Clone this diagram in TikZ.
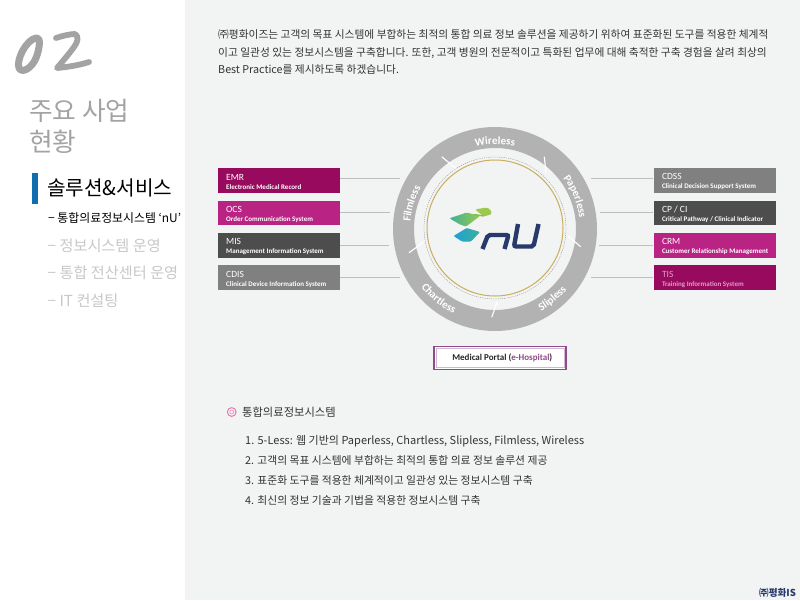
\documentclass[tikz,border=0pt]{standalone}
\usepackage{fontspec}
\usetikzlibrary{decorations.text}
\setmainfont{Noto Sans CJK KR}
\newfontfamily\latinf{Carlito}
\definecolor{panelbg}{HTML}{F2F3F3}
\definecolor{ringgrey}{HTML}{B2B2B2}
\definecolor{emrc}{HTML}{980A5E}
\definecolor{ocsc}{HTML}{B82384}
\definecolor{misc}{HTML}{4D4D4D}
\definecolor{cdisc}{HTML}{808080}
\definecolor{linec}{HTML}{BDBDBD}
\definecolor{goldc}{HTML}{C9AE5E}
\definecolor{portalc}{HTML}{8F4A8C}
\definecolor{barc}{HTML}{0F6DB0}
\definecolor{navyc}{HTML}{263A6B}
\definecolor{numc}{HTML}{A3A3A3}
\definecolor{menuc}{HTML}{C8C8C8}
\definecolor{limec}{HTML}{9CC94A}
\definecolor{greenc}{HTML}{7CC05A}
\definecolor{tealc}{HTML}{3DB09A}
\definecolor{bluec}{HTML}{1FA0D8}
\definecolor{pinkc}{HTML}{E87AB0}
\tikzset{
  sysbox/.style={minimum width=122pt,minimum height=24.6pt,inner xsep=8.5pt,inner ysep=0pt,text width=105pt,text=white,align=flush left,anchor=north west},
  link/.style={draw=linec,line width=0.7pt},
  divider/.style={draw=white,line width=1.1pt},
  bodytxt/.style={anchor=base west,inner sep=0pt,text=black!80,font=\fontsize{10.73}{11}\selectfont},
  menutxt/.style={anchor=base west,inner sep=0pt,text=menuc,font=\fontsize{15.2}{15}\selectfont},
  listtxt/.style={anchor=base west,inner sep=0pt,text=black!80,font=\fontsize{10.8}{11}\selectfont},
  headtxt/.style={anchor=base west,inner sep=0pt,text=numc,font=\fontsize{25.7}{26}\selectfont},
  ringpath/.style={decorate,decoration={text along path,text={|\ringfont|#1},text align=center}}
}
\newcommand{\ringfont}{\color{white}\latinf\bfseries\fontsize{11}{11}\selectfont}
\newcommand{\boxtxt}[2]{\rule{0pt}{9pt}{\latinf\fontsize{9.5}{8}\selectfont #1}\\[-3pt]\mbox{\latinf\bfseries\fontsize{7}{8}\selectfont #2}}
\begin{document}
\begin{tikzpicture}[x=1pt,y=-1pt]
\useasboundingbox (0,0) rectangle (800,600);
\fill[white] (0,0) rectangle (800,600);
\fill[panelbg] (185,0) rectangle (800,600);
% heading numerals
\draw[numc,line width=7pt,line cap=round,line join=round] (36,38) .. controls (26,40) and (16,60) .. (19,68) .. controls (22,74) and (32,68) .. (36,58) .. controls (40,48) and (41,36) .. (36,38) -- cycle;
\draw[numc,line width=5.8pt,line cap=round,line join=round] (56,38) .. controls (62,36) and (70,34) .. (75,34) .. controls (79,36) and (78,42) .. (74,47) .. controls (69,54) and (62,62) .. (57,68) .. controls (68,67) and (80,65) .. (89,62);
\node[headtxt] (t1) at (29,120) {주요 사업};
\node[headtxt] (t2) at (29,151) {현황};
\fill[barc] (31.5,173) rectangle (37.7,204);
\node[anchor=base west,inner sep=0pt,text=black,font=\fontsize{20.2}{20}\selectfont] (m0) at (47,195) {솔루션\&서비스};
\node[anchor=base west,inner sep=0pt,text=black,font=\fontsize{11.9}{12}\selectfont] (m1) at (48,222) {− 통합의료정보시스템 ‘nU’};
\node[menutxt] (m2) at (47.5,251) {− 정보시스템 운영};
\node[menutxt] (m3) at (47.5,278) {− 통합 전산센터 운영};
\node[menutxt] (m4) at (47.5,306) {− IT 컨설팅};
% intro
\node[bodytxt] (p1) at (218,38) {㈜평화이즈는 고객의 목표 시스템에 부합하는 최적의 통합 의료 정보 솔루션을 제공하기 위하여 표준화된 도구를 적용한 체계적};
\node[bodytxt] (p2) at (218,56) {이고 일관성 있는 정보시스템을 구축합니다. 또한, 고객 병원의 전문적이고 특화된 업무에 대해 축적한 구축 경험을 살려 최상의};
\node[bodytxt] (p3) at (218,73) {Best Practice를 제시하도록 하겠습니다.};
% boxes
\coordinate (c) at (495,229);
\coordinate (ci) at (495,228);
\node[sysbox,fill=emrc] (emr) at (217.5,167.7) {\boxtxt{EMR}{Electronic Medical Record}};
\node[sysbox,fill=ocsc] (ocs) at (217.5,200.3) {\boxtxt{OCS}{Order Communication System}};
\node[sysbox,fill=misc] (mis) at (217.5,232.7) {\boxtxt{MIS}{Management Information System}};
\node[sysbox,fill=cdisc] (cdis) at (217.5,265.2) {\boxtxt{CDIS}{Clinical Device Information System}};
\node[sysbox,fill=cdisc] (cdss) at (653.3,167.7) {\boxtxt{CDSS}{Clinical Decision Support System}};
\node[sysbox,fill=misc] (cpci) at (653.3,200.3) {\boxtxt{CP / CI}{Critical Pathway / Clinical Indicator}};
\node[sysbox,fill=ocsc] (crm) at (653.3,232.7) {\boxtxt{CRM}{Customer Relationship Management}};
\node[sysbox,fill=emrc,text=ocsc!45!white] (tis) at (653.3,265.2) {\boxtxt{TIS}{Training Information System}};
% connectors
\coordinate (lA) at (400,178.3); \coordinate (lB) at (390,212); \coordinate (lC) at (389,245); \coordinate (lD) at (400,277.6);
\coordinate (rA) at (590.5,178.3); \coordinate (rB) at (600,212); \coordinate (rC) at (599,245); \coordinate (rD) at (590.5,277.6);
\draw[link] (emr.east |- lA) -- (lA);
\draw[link] (ocs.east |- lB) -- (lB);
\draw[link] (mis.east |- lC) -- (lC);
\draw[link] (cdis.east |- lD) -- (lD);
\draw[link] (cdss.west |- rA) -- (rA);
\draw[link] (cpci.west |- rB) -- (rB);
\draw[link] (crm.west |- rC) -- (rC);
\draw[link] (tis.west |- rD) -- (rD);
% ring
\fill[ringgrey,even odd rule] (c) circle[radius=102] (c) circle[radius=81];
\draw[black!45,line width=0.35pt,dash pattern=on 1.2pt off 1pt] (ci) circle[radius=71];
\draw[goldc,line width=1pt] (ci) circle[radius=68];
\draw[divider] (441.7,156.7) -- (455.7,168.3);
\draw[divider] (544.3,156.7) -- (546,173.3);
\draw[divider] (567.7,235.7) -- (580.7,246.7);
\draw[divider] (497.3,301.7) -- (491.7,317.3);
\draw[divider] (423.3,242.3) -- (409,252.7);
% ring labels
\begin{scope}[shift={(495,229)},x=1pt,y=1pt]
\path[ringpath=Wireless] (130:85) arc[start angle=130,end angle=50,radius=85];
\path[ringpath=Filmless] (198:85) arc[start angle=198,end angle=128,radius=85];
\path[ringpath=Paperless] (57:85) arc[start angle=57,end angle=-13,radius=85];
\path[ringpath=Slipless] (-85:94) arc[start angle=-85,end angle=-16,radius=94];
\path[ringpath=Chartless] (-164:94) arc[start angle=-164,end angle=-94,radius=94];
\end{scope}
% nU logo
\draw[navyc,line width=4.4pt,rounded corners=2pt] (482.5,249) -- (488,235) -- (508.5,235) -- (504.5,249);
\draw[navyc,line width=4.4pt,rounded corners=2pt] (518,224) -- (514,246.5) -- (533.5,246.5) -- (538.5,224);
\shade[left color=tealc,right color=limec,rounded corners=1pt] (449.5,218.3) -- (466.7,212.5) -- (480,216) -- (466,226.5) -- (460,224.5) -- cycle;
\shade[left color=bluec,right color=tealc,rounded corners=1pt] (453.5,236) -- (466.7,228) -- (480,232) -- (471,241.5) -- (462,241.5) -- cycle;
\fill[limec,rounded corners=1.5pt] (475,209.5) -- (486,207.5) -- (490,209) -- (492,214) -- (484,216.5) -- cycle;
\draw[greenc,line width=1.4pt] (474,214.5) -- (484,216);
% portal
\node[draw=portalc,fill=white,line width=1.5pt,minimum width=132pt,minimum height=23pt,inner sep=0pt] (portalout) at (499.8,358) {};
\node[draw=portalc!40,fill=white,line width=0.5pt,minimum width=128pt,minimum height=19pt,inner sep=0pt,font=\latinf\bfseries\fontsize{9}{10}\selectfont,text=black!85] (portal) at (portalout.center) {\hspace*{5pt}Medical Portal ({\color{portalc}e-Hospital})};
% list
\draw[pinkc,line width=1pt] (231.7,412) circle[radius=4.4];
\draw[pinkc!70,line width=0.8pt] (231.7,412) circle[radius=2];
\node[anchor=base west,inner sep=0pt,text=black!80,font=\fontsize{11.3}{11}\selectfont] (lt) at (242,416) {통합의료정보시스템};
\node[listtxt,font=\fontsize{11}{11}\selectfont] (l1) at (245,444) {1. 5-Less: 웹 기반의 Paperless, Chartless, Slipless, Filmless, Wireless};
\node[listtxt] (l2) at (245,464) {2. 고객의 목표 시스템에 부합하는 최적의 통합 의료 정보 솔루션 제공};
\node[listtxt] (l3) at (245,484) {3. 표준화 도구를 적용한 체계적이고 일관성 있는 정보시스템 구축};
\node[listtxt] (l4) at (245,504) {4. 최신의 정보 기술과 기법을 적용한 정보시스템 구축};
% footer
\node[anchor=base west,inner sep=0pt,text=navyc,font=\bfseries\fontsize{9.6}{10}\selectfont] (foot) at (759,596) {㈜평화IS};
\end{tikzpicture}
\end{document}
